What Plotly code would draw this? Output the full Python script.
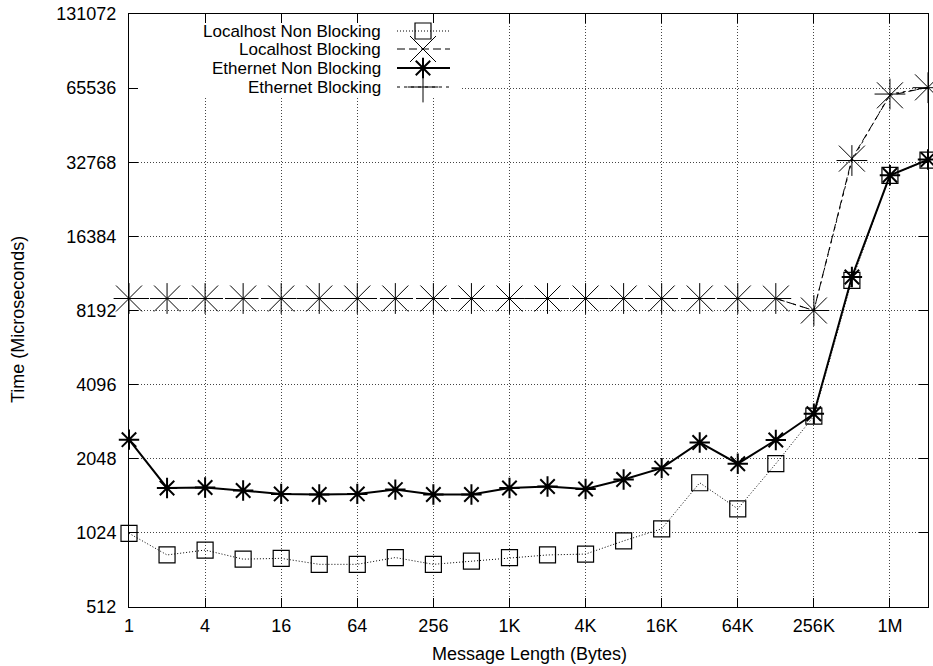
import plotly.graph_objects as go

# ---- data ----
msg_len = [2 ** k for k in range(22)]
x_tick_vals = [2 ** k for k in range(0, 21, 2)]
x_tick_text = ["1", "4", "16", "64", "256", "1K", "4K", "16K", "64K", "256K", "1M"]
y_tick_vals = [512 * 2 ** k for k in range(9)]
y_tick_text = [str(v) for v in y_tick_vals]

localhost_nb = [1020, 833, 872, 801, 807, 763, 763, 813, 763, 786, 813, 833, 840,
                950, 1064, 1636, 1282, 1955, 3050, 10850, 29000, 33400]
localhost_b = [9165, 9165, 9165, 9165, 9165, 9165, 9165, 9165, 9165, 9165, 9165,
               9165, 9165, 9165, 9165, 9165, 9165, 9165, 8192, 33900, 61270, 66000]
ethernet_nb = [2448, 1558, 1566, 1521, 1474, 1466, 1474, 1535, 1466, 1466, 1558,
               1580, 1544, 1687, 1876, 2384, 1955, 2440, 3120, 11200, 29000, 33600]
ethernet_b = [9165, 9165, 9165, 9165, 9165, 9165, 9165, 9165, 9165, 9165, 9165,
              9165, 9165, 9165, 9165, 9165, 9165, 9165, 8192, 33300, 62000, 65800]

series_names = ["Localhost Non Blocking", "Localhost Blocking",
                "Ethernet Non Blocking", "Ethernet Blocking"]

FONT = "Liberation Sans, Arial, sans-serif"
FS = 18
styles = [
    dict(line=dict(color="black", width=1, dash="1px,2px"),
         marker=dict(symbol="square-open", size=16, color="black", line=dict(width=1.2, color="black"))),
    dict(line=dict(color="black", width=1, dash="8px,4px"),
         marker=dict(symbol="x-thin-open", size=26, color="black", line=dict(width=1, color="black"))),
    dict(line=dict(color="black", width=2),
         marker=dict(symbol="asterisk-open", size=17, color="black", line=dict(width=2, color="black"))),
    dict(line=dict(color="black", width=1, dash="3px,4px"),
         marker=dict(symbol="cross-thin-open", size=22, color="black", line=dict(width=1, color="black"))),
]
values = [localhost_nb, localhost_b, ethernet_nb, ethernet_b]

fig = go.Figure()
for name, vals, st in zip(series_names, values, styles):
    fig.add_trace(go.Scatter(x=msg_len, y=vals, mode="lines+markers", name=name,
                             line=st["line"], marker=st["marker"], showlegend=False,
                             cliponaxis=False))

# ---- custom gnuplot-like key (overlay axes 0..1) ----
W, H = 933, 666
L, R, T, B = 129, 5, 14, 59
pw, ph = W - L - R, H - T - B
def px(x):
    return (x - L) / pw
def py(y):
    return 1 - (y - T) / ph

# opaque key background (covers the grid like gnuplot's key box)
bx0, bx1, by0, by1 = px(131), px(461), py(97), py(15)
fig.add_trace(go.Scatter(x=[bx0, bx1, bx1, bx0, bx0], y=[by0, by0, by1, by1, by0],
                         mode="lines", fill="toself", fillcolor="white",
                         line=dict(width=0, color="white"), xaxis="x2", yaxis="y2",
                         showlegend=False, hoverinfo="skip"))

key_rows = [31, 49, 68, 87]
for name, st, yr in zip(series_names, styles, key_rows):
    fig.add_trace(go.Scatter(x=[px(397), px(423), px(450)], y=[py(yr)] * 3,
                             mode="lines", line=st["line"], xaxis="x2", yaxis="y2",
                             showlegend=False, hoverinfo="skip"))
    fig.add_trace(go.Scatter(x=[px(423)], y=[py(yr)], mode="markers",
                             marker=st["marker"], xaxis="x2", yaxis="y2",
                             showlegend=False, hoverinfo="skip", cliponaxis=False))
    fig.add_annotation(x=px(383), y=py(yr), xref="x2", yref="y2", text=name,
                       showarrow=False, xanchor="right", yanchor="middle",
                       font=dict(family=FONT, size=17, color="black"))

# axis titles
fig.add_annotation(x=px(18), y=py(320), xref="paper", yref="paper",
                   text="Time (Microseconds)", textangle=-90, showarrow=False,
                   xanchor="center", yanchor="middle",
                   font=dict(family=FONT, size=FS, color="black"))
fig.add_annotation(x=px(529), y=py(654), xref="paper", yref="paper",
                   text="Message Length (Bytes)", showarrow=False,
                   xanchor="center", yanchor="middle",
                   font=dict(family=FONT, size=FS, color="black"))

axis_common = dict(showline=True, linecolor="black", linewidth=1, mirror="ticks",
                   ticks="inside", ticklen=9, tickcolor="black", tickwidth=1,
                   showgrid=True, gridcolor="#444", gridwidth=1, griddash="1px,2px",
                   zeroline=False, automargin=False,
                   tickfont=dict(family=FONT, size=FS, color="black"))

fig.update_layout(
    width=W, height=H,
    margin=dict(l=L, r=R, t=T, b=B),
    paper_bgcolor="white", plot_bgcolor="white",
    font=dict(family=FONT, size=FS, color="black"),
    xaxis=dict(type="log", range=[0, 21 * 0.30103], tickvals=x_tick_vals,
               ticktext=x_tick_text, ticklabelstandoff=2, **axis_common),
    yaxis=dict(type="log", range=[9 * 0.30103, 17 * 0.30103], tickvals=y_tick_vals,
               ticktext=y_tick_text, ticklabelstandoff=8, **axis_common),
    xaxis2=dict(range=[0, 1], overlaying="x", visible=False, fixedrange=True),
    yaxis2=dict(range=[0, 1], overlaying="y", visible=False, fixedrange=True),
)

fig.write_html("out.html", config={"displayModeBar": False},
               post_script="document.body.style.margin='0px';document.body.style.overflow='hidden';")
